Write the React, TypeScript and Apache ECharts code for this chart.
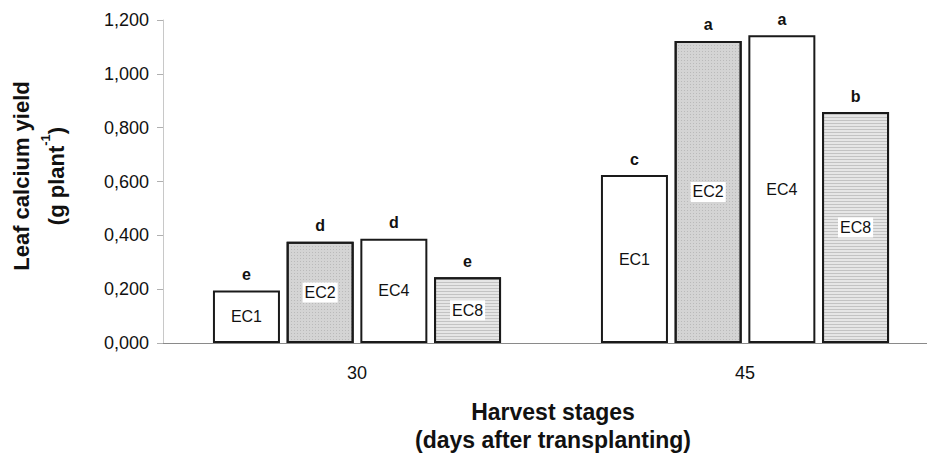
import React, { useEffect, useRef } from "react";
import * as echarts from "echarts";

const categories = ["30", "45"];
const seriesNames = ["EC1", "EC2", "EC4", "EC8"];
const ec1 = [0.195, 0.624];
const ec2 = [0.376, 1.122];
const ec4 = [0.387, 1.143];
const ec8 = [0.244, 0.858];
const letters1 = ["e", "c"];
const letters2 = ["d", "a"];
const letters4 = ["d", "a"];
const letters8 = ["e", "b"];
const yTicks = { min: 0, max: 1.2, interval: 0.2 };

const FONT = "'Liberation Sans', Arial, sans-serif";

export default function App() {
  const ref = useRef<HTMLDivElement>(null);
  useEffect(() => {
    if (!ref.current) return;
    const chart = echarts.init(ref.current, null, { renderer: "svg" });
    const values = [ec1, ec2, ec4, ec8];
    const letters = [letters1, letters2, letters4, letters8];
    const fills = ["#ffffff", "#d4d4d4", "#ffffff", "#e6e6e6"];
    const series: any[] = [];
    seriesNames.forEach((name, i) => {
      const itemStyle: any = { color: fills[i], borderColor: "#1a1a1a", borderWidth: 2 };
      if (name === "EC8") {
        itemStyle.decal = {
          symbol: "rect",
          symbolSize: 1,
          dashArrayX: [[1, 0]],
          dashArrayY: [1, 2],
          color: "rgba(90,90,90,0.25)",
        };
      }
      if (name === "EC2") {
        itemStyle.decal = {
          symbol: "rect",
          symbolSize: 1,
          dashArrayX: [1, 2],
          dashArrayY: [1, 2],
          color: "rgba(80,80,80,0.2)",
        };
      }
      series.push({
        name,
        type: "bar",
        stack: "s" + i,
        barWidth: 67,
        barGap: "10%",
        data: values[i],
        itemStyle,
        label: {
          show: true,
          position: "inside",
          formatter: name,
          fontFamily: FONT,
          fontSize: 16,
          color: "#111",
          backgroundColor: "#fff",
          padding: [2, 2],
        },
      });
      series.push({
        name: name + "-sig",
        type: "bar",
        stack: "s" + i,
        barWidth: 67,
        barGap: "10%",
        data: [0, 0],
        itemStyle: { color: "rgba(0,0,0,0)", borderWidth: 0 },
        label: {
          show: true,
          position: "top",
          distance: 8,
          formatter: (p: any) => letters[i][p.dataIndex],
          fontFamily: FONT,
          fontSize: 16,
          fontWeight: "bold",
          color: "#111",
        },
      });
    });

    chart.setOption({
      animation: false,
      backgroundColor: "#ffffff",
      grid: {
        left: 163,
        top: 20,
        width: 776,
        height: 323,
        containLabel: false,
        outerBoundsMode: "none",
      },
      xAxis: {
        type: "category",
        data: categories,
        axisLine: { lineStyle: { color: "#8a8a8a", width: 1 } },
        axisTick: { show: false },
        axisLabel: { fontFamily: FONT, fontSize: 18, color: "#111", margin: 21 },
      },
      yAxis: {
        type: "value",
        min: yTicks.min,
        max: yTicks.max,
        interval: yTicks.interval,
        splitLine: { show: false },
        axisLine: { show: true, lineStyle: { color: "#c8c8c8", width: 1 } },
        axisTick: { show: true, length: 6, lineStyle: { color: "#b0b0b0" } },
        axisLabel: {
          fontFamily: FONT,
          fontSize: 18,
          color: "#111",
          margin: 14,
          formatter: (v: number) => v.toFixed(3).replace(".", ","),
        },
      },
      graphic: [
        {
          type: "text",
          x: 39,
          y: 176,
          rotation: Math.PI / 2,
          style: {
            text: "{t|Leaf calcium yield}\n{t|(g plant}{s|-1}{t|)}",
            align: "center",
            verticalAlign: "middle",
            fill: "#111",
            rich: {
              t: { fontFamily: FONT, fontSize: 22, fontWeight: "bold", lineHeight: 35, fill: "#111" },
              s: { fontFamily: FONT, fontSize: 13, fontWeight: "bold", lineHeight: 35, verticalAlign: "top", fill: "#111", padding: [0, 0, 12, 0] },
            },
          },
        },
        {
          type: "text",
          x: 553,
          y: 426,
          style: {
            text: "Harvest stages\n(days after transplanting)",
            align: "center",
            verticalAlign: "middle",
            fontFamily: FONT,
            fontSize: 23,
            fontWeight: "bold",
            lineHeight: 28,
            fill: "#111",
          },
        },
      ],
      series,
    });
    return () => chart.dispose();
  }, []);
  return (
    <div
      ref={ref}
      style={{ position: "fixed", left: 0, top: 0, width: 927, height: 456 }}
    />
  );
}
